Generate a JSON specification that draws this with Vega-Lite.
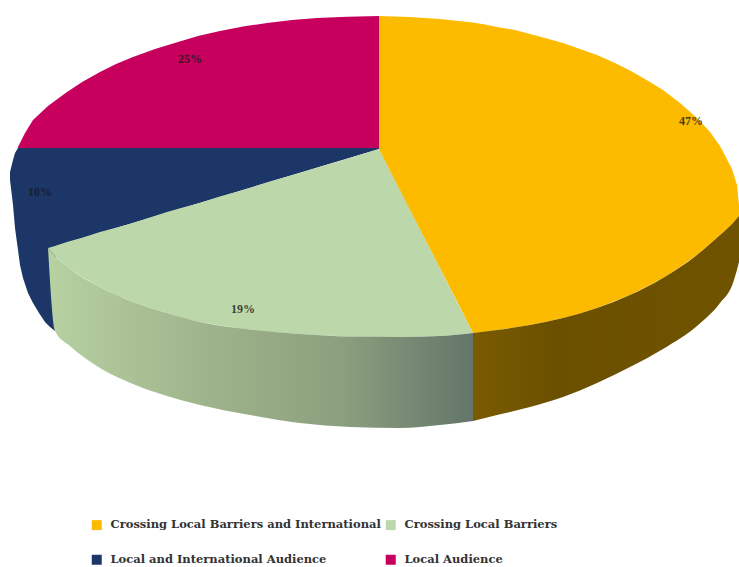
{
"$schema":"https://vega.github.io/schema/vega-lite/v6.json",
"autosize":{"type":"fit","contains":"padding"},
"width":739,"height":567,"padding":0,
"background":"white",
"config":{"view":{"stroke":null}},
"datasets":{
"faces":[
{"s":"Local and International Audience","x":10,"y":172,"y2":180},
{"s":"Local and International Audience","x":13,"y":160,"y2":205},
{"s":"Local and International Audience","x":15,"y":153,"y2":228},
{"s":"Local and International Audience","x":18,"y":148,"y2":250},
{"s":"Local and International Audience","x":20,"y":148,"y2":265},
{"s":"Local and International Audience","x":23,"y":148,"y2":278},
{"s":"Local and International Audience","x":28,"y":148,"y2":293},
{"s":"Local and International Audience","x":33,"y":148,"y2":303},
{"s":"Local and International Audience","x":39,"y":148,"y2":313},
{"s":"Local and International Audience","x":45,"y":148,"y2":322},
{"s":"Local and International Audience","x":50,"y":148,"y2":327},
{"s":"Local and International Audience","x":55,"y":148,"y2":331},
{"s":"Local and International Audience","x":56,"y":148,"y2":246},
{"s":"Local and International Audience","x":379,"y":148,"y2":149},
{"s":"Local Audience","x":18,"y":147,"y2":148},
{"s":"Local Audience","x":25,"y":133,"y2":148},
{"s":"Local Audience","x":33,"y":120,"y2":148},
{"s":"Local Audience","x":48,"y":106,"y2":148},
{"s":"Local Audience","x":67,"y":92,"y2":148},
{"s":"Local Audience","x":83,"y":81.5,"y2":148},
{"s":"Local Audience","x":100,"y":72,"y2":148},
{"s":"Local Audience","x":116,"y":64,"y2":148},
{"s":"Local Audience","x":133,"y":57,"y2":148},
{"s":"Local Audience","x":155,"y":49,"y2":148},
{"s":"Local Audience","x":178,"y":42,"y2":148},
{"s":"Local Audience","x":198,"y":36,"y2":148},
{"s":"Local Audience","x":220,"y":31,"y2":148},
{"s":"Local Audience","x":243,"y":26.5,"y2":148},
{"s":"Local Audience","x":267,"y":23,"y2":148},
{"s":"Local Audience","x":292,"y":20,"y2":148},
{"s":"Local Audience","x":317,"y":18,"y2":148},
{"s":"Local Audience","x":347,"y":16.7,"y2":148},
{"s":"Local Audience","x":379,"y":16,"y2":148},
{"s":"Crossing Local Barriers","x":48,"y":248,"y2":248},
{"s":"Crossing Local Barriers","x":55,"y":246,"y2":256},
{"s":"Crossing Local Barriers","x":67,"y":242,"y2":267},
{"s":"Crossing Local Barriers","x":83,"y":237.5,"y2":277.5},
{"s":"Crossing Local Barriers","x":100,"y":232,"y2":287},
{"s":"Crossing Local Barriers","x":116,"y":227.7,"y2":295},
{"s":"Crossing Local Barriers","x":133,"y":223,"y2":302},
{"s":"Crossing Local Barriers","x":150,"y":217.5,"y2":308},
{"s":"Crossing Local Barriers","x":167,"y":212,"y2":313},
{"s":"Crossing Local Barriers","x":183,"y":207.6,"y2":318},
{"s":"Crossing Local Barriers","x":200,"y":203,"y2":322},
{"s":"Crossing Local Barriers","x":220,"y":196.6,"y2":325.5},
{"s":"Crossing Local Barriers","x":240,"y":191,"y2":328.5},
{"s":"Crossing Local Barriers","x":270,"y":181.6,"y2":332},
{"s":"Crossing Local Barriers","x":300,"y":173,"y2":334},
{"s":"Crossing Local Barriers","x":325,"y":165.2,"y2":335.5},
{"s":"Crossing Local Barriers","x":350,"y":158,"y2":336.5},
{"s":"Crossing Local Barriers","x":379,"y":149,"y2":337},
{"s":"Crossing Local Barriers","x":400,"y":190,"y2":337},
{"s":"Crossing Local Barriers","x":420,"y":229,"y2":336.8},
{"s":"Crossing Local Barriers","x":440,"y":268,"y2":336},
{"s":"Crossing Local Barriers","x":457,"y":302,"y2":334.8},
{"s":"Crossing Local Barriers","x":473,"y":333,"y2":333},
{"s":"Crossing Local Barriers and International","x":379,"y":16,"y2":149},
{"s":"Crossing Local Barriers and International","x":410,"y":17,"y2":210},
{"s":"Crossing Local Barriers and International","x":440,"y":19,"y2":268},
{"s":"Crossing Local Barriers and International","x":473,"y":22.5,"y2":333},
{"s":"Crossing Local Barriers and International","x":485,"y":24.5,"y2":331.7},
{"s":"Crossing Local Barriers and International","x":497,"y":27,"y2":330},
{"s":"Crossing Local Barriers and International","x":515,"y":30,"y2":327.5},
{"s":"Crossing Local Barriers and International","x":530,"y":34,"y2":325},
{"s":"Crossing Local Barriers and International","x":545,"y":38,"y2":322},
{"s":"Crossing Local Barriers and International","x":563,"y":43,"y2":318},
{"s":"Crossing Local Barriers and International","x":580,"y":49,"y2":313.5},
{"s":"Crossing Local Barriers and International","x":597,"y":55,"y2":308},
{"s":"Crossing Local Barriers and International","x":615,"y":63,"y2":301},
{"s":"Crossing Local Barriers and International","x":630,"y":70.6,"y2":295},
{"s":"Crossing Local Barriers and International","x":650,"y":82,"y2":285},
{"s":"Crossing Local Barriers and International","x":663,"y":90,"y2":278},
{"s":"Crossing Local Barriers and International","x":680,"y":103,"y2":267},
{"s":"Crossing Local Barriers and International","x":697,"y":118,"y2":255},
{"s":"Crossing Local Barriers and International","x":710,"y":132,"y2":244},
{"s":"Crossing Local Barriers and International","x":720,"y":146,"y2":235},
{"s":"Crossing Local Barriers and International","x":732,"y":169,"y2":224},
{"s":"Crossing Local Barriers and International","x":737,"y":185,"y2":219},
{"s":"Crossing Local Barriers and International","x":739,"y":205,"y2":216}
],
"greenSide":[
{"x":48,"y":248,"y2":248},{"x":55,"y":256,"y2":331},{"x":70,"y":269,"y2":346},{"x":100,"y":287,"y2":368},{"x":133,"y":302,"y2":384},{"x":167,"y":313,"y2":396},{"x":200,"y":322,"y2":405},{"x":250,"y":329.5,"y2":415},{"x":300,"y":334,"y2":423},{"x":350,"y":336.5,"y2":427},{"x":400,"y":337,"y2":428},{"x":440,"y":336,"y2":425},{"x":473,"y":333,"y2":421}
],
"brownSide":[
{"x":473,"y":333,"y2":421},{"x":497,"y":330,"y2":415},{"x":530,"y":325,"y2":407},{"x":563,"y":318,"y2":397},{"x":597,"y":308,"y2":383},{"x":630,"y":295,"y2":367},{"x":663,"y":278,"y2":349},{"x":697,"y":255,"y2":326},{"x":720,"y":235,"y2":303},{"x":733,"y":223,"y2":283},{"x":739,"y":216,"y2":262}
],
"labels":[
{"t":"47%","x":691,"y":121},{"t":"25%","x":190,"y":59},{"t":"10%","x":40,"y":192},{"t":"19%","x":243,"y":309}
]
},
"layer":[
{"data":{"name":"faces"},
 "mark":{"type":"area","interpolate":"linear"},
 "encoding":{
  "x":{"field":"x","type":"quantitative","scale":{"domain":[0,739],"nice":false},"axis":null},
  "y":{"field":"y","type":"quantitative","scale":{"domain":[567,0],"nice":false},"axis":null},
  "y2":{"field":"y2"},
  "color":{"field":"s","type":"nominal","sort":null,
   "scale":{"domain":["Crossing Local Barriers and International","Crossing Local Barriers","Local and International Audience","Local Audience"],"range":["#fdbb00","#bcd8ab","#1c3667","#c6005c"]},
   "legend":{"title":null,"orient":"none","legendX":91,"legendY":519,"columns":2,"direction":"horizontal","symbolType":"square","symbolSize":100,"symbolStrokeWidth":0,"labelFont":"DejaVu Serif","labelFontWeight":"bold","labelFontSize":11.5,"labelColor":"#333333","labelLimit":300,"rowPadding":22,"columnPadding":4,"labelOffset":8,"padding":0}}
 }},
{"data":{"name":"greenSide"},
 "mark":{"type":"area","interpolate":"monotone","fill":{"gradient":"linear","x1":0,"x2":1,"y1":0,"y2":0,"stops":[{"offset":0,"color":"#b7d1a2"},{"offset":0.35,"color":"#a0b58c"},{"offset":0.7,"color":"#8b9f7d"},{"offset":1,"color":"#64756a"}]}},
 "encoding":{"x":{"field":"x","type":"quantitative"},"y":{"field":"y","type":"quantitative"},"y2":{"field":"y2"}}},
{"data":{"name":"brownSide"},
 "mark":{"type":"area","interpolate":"monotone","fill":{"gradient":"linear","x1":0,"x2":1,"y1":0,"y2":0,"stops":[{"offset":0,"color":"#7a5b00"},{"offset":0.3,"color":"#6b5000"},{"offset":1,"color":"#6f5300"}]}},
 "encoding":{"x":{"field":"x","type":"quantitative"},"y":{"field":"y","type":"quantitative"},"y2":{"field":"y2"}}},
{"data":{"name":"labels"},
 "mark":{"type":"text","font":"Liberation Serif","fontWeight":"bold","fontSize":12,"color":"#1a1a1a","opacity":0.8,"align":"center","baseline":"middle"},
 "encoding":{"x":{"field":"x","type":"quantitative"},"y":{"field":"y","type":"quantitative"},"text":{"field":"t"}}}
]
}
